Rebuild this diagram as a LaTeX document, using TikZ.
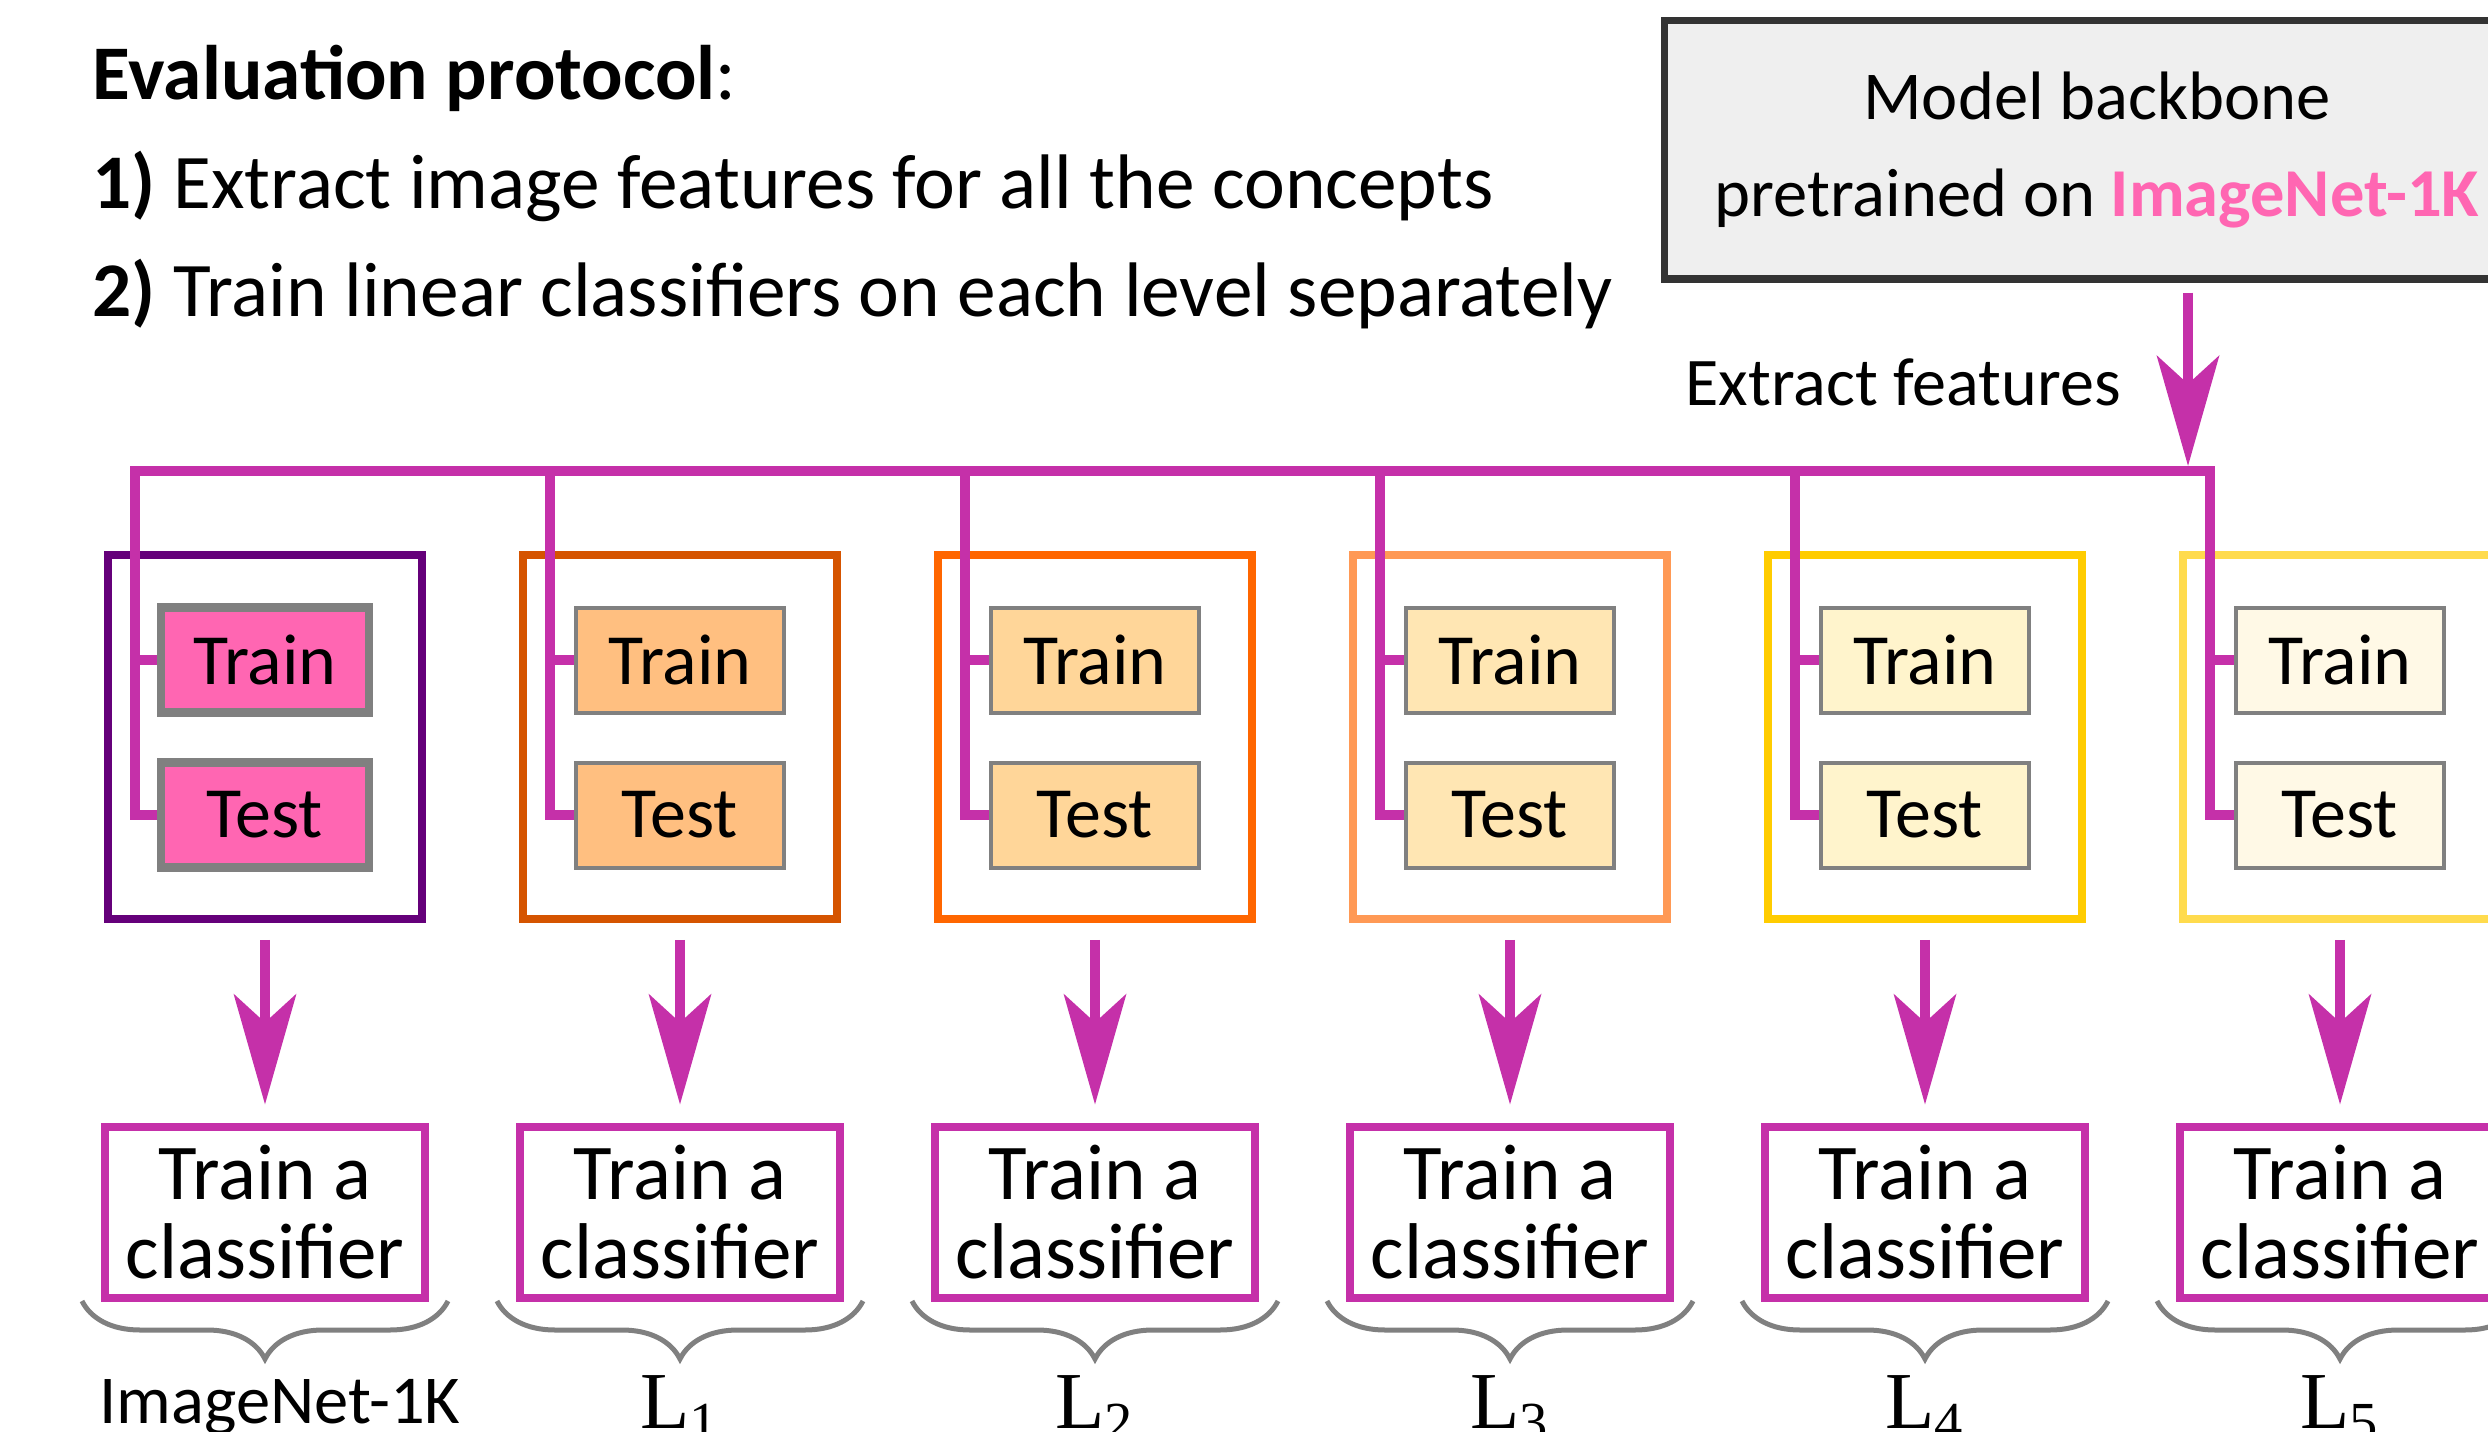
\documentclass[tikz,border=0pt]{standalone}
\usepackage{fontspec}
\setmainfont{Carlito}
\newfontfamily\levelfont{Liberation Serif}
\usepackage{tikz}
\usetikzlibrary{arrows.meta,positioning,calc,decorations.pathreplacing}
\definecolor{linkmag}{HTML}{C530A9}
\definecolor{inetpink}{HTML}{FF66B2}
\definecolor{backfill}{HTML}{EFEFEF}
\definecolor{backedge}{HTML}{333333}
\definecolor{edge1}{HTML}{65007A}
\definecolor{edge2}{HTML}{D55400}
\definecolor{edge3}{HTML}{FF6600}
\definecolor{edge4}{HTML}{FF9955}
\definecolor{edge5}{HTML}{FFCC00}
\definecolor{edge6}{HTML}{FFDB4D}
\definecolor{fill1}{HTML}{FF66B2}
\definecolor{fill2}{HTML}{FFBF80}
\definecolor{fill3}{HTML}{FFD699}
\definecolor{fill4}{HTML}{FFE6B3}
\definecolor{fill5}{HTML}{FFF4CC}
\definecolor{fill6}{HTML}{FFF9E6}
\tikzset{
  levelbox/.style={draw, line width=0.075cm, minimum width=3.14cm, minimum height=3.64cm},
  splitbox/.style={draw=gray, minimum width=2.08cm, minimum height=1.05cm, font=\fontsize{20.5}{22}\selectfont},
  clfbox/.style={draw=linkmag, line width=0.08cm, minimum width=3.2cm, minimum height=1.71cm, align=center, font=\fontsize{22.5}{22.5}\selectfont},
  backbonebox/.style={draw=backedge, fill=backfill, line width=0.07cm, minimum width=8.66cm, minimum height=2.58cm, align=center, font=\fontsize{19.5}{27.6}\selectfont},
  link/.style={draw=linkmag, line width=0.1cm},
  down/.style={-{Stealth[length=1.1cm, width=0.62cm, inset=0.28cm]}, linkmag, line width=0.1cm},
  levelbrace/.style={decorate, decoration={brace, mirror, amplitude=0.58cm}, draw=gray, line width=0.05cm},
  steptext/.style={anchor=base west, inner sep=0pt, font=\fontsize{22}{26}\selectfont}
}

\begin{document}
\begin{tikzpicture}
  \useasboundingbox (0,0) rectangle (24.88,-14.32);
  % protocol text
  \node[steptext] (title) at (0.92,-1.00) {\textbf{Evaluation protocol}:};
  \node[steptext] (step1) at (0.92,-2.09) {\textbf{1)} Extract image features for all the concepts};
  \node[steptext] (step2) at (0.92,-3.17) {\textbf{2)} Train linear classifiers on each level separately};
  % backbone
  \node[backbonebox] (backbone) at (20.97,-1.50) {Model backbone\\pretrained on \textbf{\color{inetpink}ImageNet-1K}};
  \coordinate (feat) at (21.88,-4.66);
  \draw[down, shorten <=0.1cm] (backbone.south -| feat) -- (feat);
  \node[anchor=base west, inner sep=0pt, font=\fontsize{19.4}{22}\selectfont] (extract) at (16.85,-4.05) {Extract features};
  % one column per level
  \foreach \i/\x/\w in {1/2.65/0.085, 2/6.80/0.04, 3/10.95/0.04, 4/15.10/0.04, 5/19.25/0.04, 6/23.40/0.04}{
    \node[levelbox, draw=edge\i] (outer\i) at (\x,-7.37) {};
    \node[splitbox, fill=fill\i, line width=\w cm] (train\i) at (\x,-6.60) {Train};
    \node[splitbox, fill=fill\i, line width=\w cm] (test\i) at (\x,-8.15) {Test};
    \node[clfbox] (clf\i) at (\x,-12.12) {Train a\\classifier};
    \coordinate (drop\i) at (\x-1.30,-4.71);
    \draw[down, shorten <=0.17cm, shorten >=0.18cm] (outer\i) -- (clf\i);
    \draw[levelbrace] (\x-1.83,-13.01) -- (\x+1.83,-13.01);
  }
  % feature links
  \draw[link] (test1.west) -| (drop1) -- (drop6) |- (test6.west);
  \foreach \i in {2,...,5}
    \draw[link] (drop\i) |- (test\i.west);
  \foreach \i in {1,...,6}
    \draw[link] (drop\i |- train\i.west) -- (train\i.west);
  % level names
  \node[anchor=base, font=\fontsize{19.5}{20}\selectfont] (lab1) at (2.80,-14.23) {ImageNet-1K};
  \node[anchor=base, font=\levelfont\fontsize{23}{24}\selectfont] (lab2) at (6.80,-14.28) {L\textsubscript{1}};
  \node[anchor=base, font=\levelfont\fontsize{23}{24}\selectfont] (lab3) at (10.95,-14.28) {L\textsubscript{2}};
  \node[anchor=base, font=\levelfont\fontsize{23}{24}\selectfont] (lab4) at (15.10,-14.28) {L\textsubscript{3}};
  \node[anchor=base, font=\levelfont\fontsize{23}{24}\selectfont] (lab5) at (19.25,-14.28) {L\textsubscript{4}};
  \node[anchor=base, font=\levelfont\fontsize{23}{24}\selectfont] (lab6) at (23.40,-14.28) {L\textsubscript{5}};
\end{tikzpicture}
\end{document}
